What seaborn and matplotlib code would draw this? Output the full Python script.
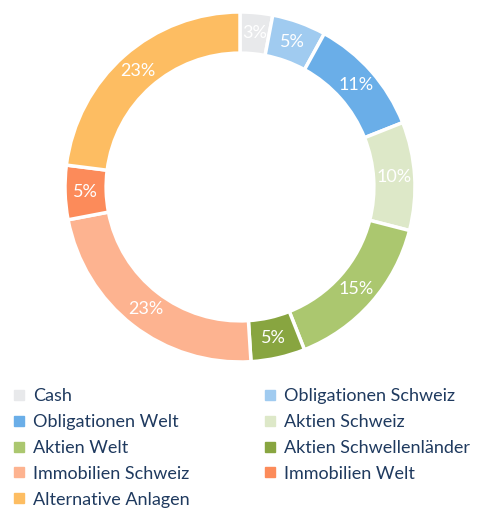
import seaborn as sns
import matplotlib.pyplot as plt
from matplotlib.lines import Line2D

''' Daten '''
categories = ['Cash', 'Obligationen Schweiz', 'Obligationen Welt', 'Aktien Schweiz',
              'Aktien Welt', 'Aktien Schwellenländer', 'Immobilien Schweiz',
              'Immobilien Welt', 'Alternative Anlagen']
values = [3, 5, 11, 10, 15, 5, 23, 5, 23]
colors = ['#E8E9EB', '#A0CBF0', '#6AAEE8', '#DDE8C8', '#ABC76F',
          '#88A540', '#FDB390', '#FC8B5A', '#FDBD62']

sns.set_theme(style='white')
plt.rcParams['font.family'] = ['Lato', 'DejaVu Sans']

fig = plt.figure(figsize=(4.8, 5.11), dpi=100)
ax = fig.add_axes([(240 - 175) / 480, (511 - 187 - 175) / 511, 350 / 480, 350 / 511])

ring = 0.235
wedges, texts, autotexts = ax.pie(values, colors=colors, startangle=90, counterclock=False,
                                  radius=1, autopct=lambda p: f'{p:.0f}%',
                                  pctdistance=1 - ring / 2,
                                  wedgeprops=dict(width=ring, edgecolor='white', linewidth=2.5),
                                  textprops=dict(color='white', fontsize=13))
ax.set_aspect('equal')
ax.set_xlim(-1, 1)
ax.set_ylim(-1, 1)
ax.axis('off')

''' Legende: zeilenweise in 2 Spalten -> zwei Legenden nebeneinander '''
def make_legend(idx, x0):
    handles = [Line2D([], [], marker='s', linestyle='', markersize=6.5, color=colors[i]) for i in idx]
    labels = [categories[i] for i in idx]
    leg = fig.legend(handles, labels, loc='upper left', bbox_to_anchor=(x0, 1 - 388 / 511),
                     frameon=False, fontsize=13, handlelength=0.6, handletextpad=0.45,
                     labelspacing=0.55, borderpad=0, borderaxespad=0)
    for t in leg.get_texts():
        t.set_color('#1F3A5F')
    return leg

make_legend([0, 2, 4, 6, 8], 14 / 480)
make_legend([1, 3, 5, 7], 265 / 480)

fig.savefig('out.png', dpi=100)
